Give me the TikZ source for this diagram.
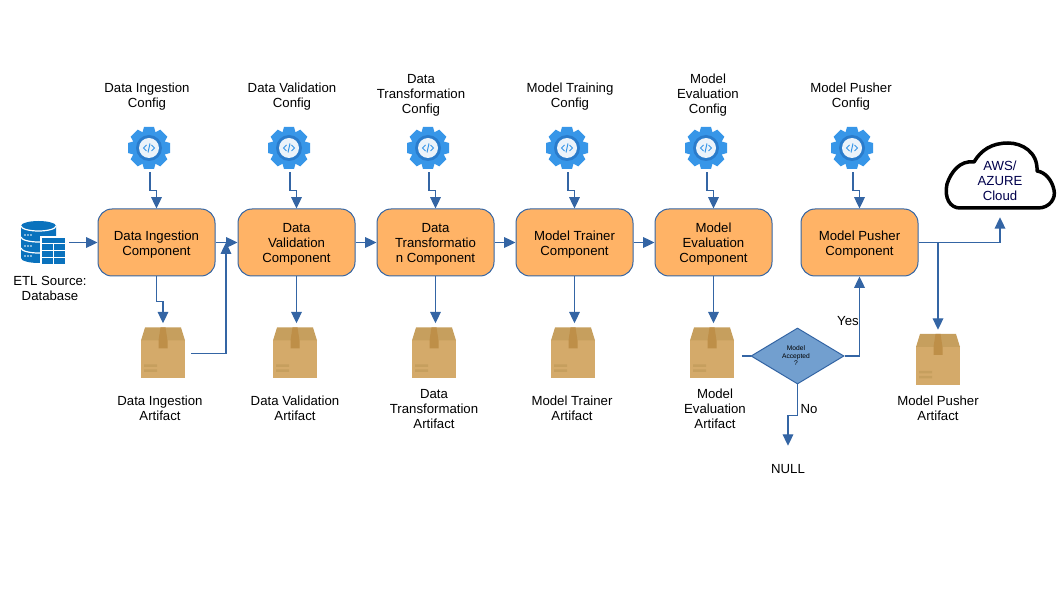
\documentclass[tikz,border=0pt]{standalone}
\usepackage{fontspec}
\setmainfont{Liberation Sans}
\usetikzlibrary{arrows.meta,shapes.geometric}
\newlength{\pxunit}
\setlength{\pxunit}{0.75pt}
\definecolor{FlowColor}{RGB}{52,101,164}
\definecolor{BoxColor}{RGB}{255,179,102}
\definecolor{DecisionColor}{RGB}{114,159,207}
\definecolor{GearColor}{RGB}{55,150,232}
\definecolor{GearRingColor}{RGB}{42,124,204}
\definecolor{GearCoreColor}{RGB}{236,243,250}
\definecolor{DbColor}{RGB}{10,114,189}
\definecolor{CrateColor}{RGB}{212,170,106}
\definecolor{CrateLidColor}{RGB}{198,159,94}
\definecolor{CrateTapeColor}{RGB}{190,143,72}
\tikzset{
  comp/.style={draw=FlowColor,fill=BoxColor,line width=1\pxunit,rounded corners=14\pxunit,minimum width=117\pxunit,minimum height=67\pxunit,inner sep=0pt},
  lbl/.style={align=center,inner sep=0pt,font=\fontsize{9.9}{11.25}\selectfont},
  spot/.style n args={2}{inner sep=0pt,minimum width=#1\pxunit,minimum height=#2\pxunit},
  flow/.style={draw=FlowColor,line width=1.2\pxunit,-{Triangle[length=8.5pt,width=8pt]}},
  plainflow/.style={draw=FlowColor,line width=1.2\pxunit},
  gearicon/.pic={
    \foreach \a in {0,45,...,315} {
      \fill[GearColor,rotate=\a] (-5,-21) -- (5,-21) -- (7,-14) -- (-7,-14) -- cycle;
    }
    \fill[GearColor] (0,0) circle (17);
    \fill[GearRingColor] (0,0) circle (13);
    \fill[GearCoreColor] (0,0) circle (10);
    \draw[GearColor,line width=1\pxunit] (-2.5,-3) -- (-5.5,0) -- (-2.5,3) (2.5,-3) -- (5.5,0) -- (2.5,3) (1,-4.5) -- (-1,4.5);
  },
  crateicon/.pic={
    \fill[CrateColor] (-22,-13) rectangle (22,25);
    \fill[CrateLidColor] (-18,-26) -- (18,-26) -- (22,-13) -- (-22,-13) -- cycle;
    \fill[CrateTapeColor] (-2.5,-26) -- (2.5,-26) -- (4.5,-13) -- (4.5,-5) -- (-4.5,-5) -- (-4.5,-13) -- cycle;
    \fill[CrateLidColor] (-19,11) rectangle (-6,13.5) (-19,16) rectangle (-6,18.5);
  }
}
\begin{document}
\begin{tikzpicture}[x=1\pxunit,y=-1\pxunit]
\useasboundingbox (0,0) rectangle (1058,595);
% components
\foreach \nm/\x/\txt in {A/156.5/Data Ingestion\\Component,B/296.5/Data\\Validation\\Component,C/435.5/Data\\Transformatio\\n Component,D/574.5/Model Trainer\\Component,E/713.5/Model\\Evaluation\\Component,F/859.5/Model Pusher\\Component} {
   \node[comp,label={[lbl,yshift=-2\pxunit]center:\txt}] (box\nm) at (\x,242.5) {};
}
% config gears
\foreach \nm/\x/\xl/\yl/\txt in {A/150/147/96.5/Data Ingestion\\Config,B/290/292/96.5/Data Validation\\Config,C/429/421/95/Data\\Transformation\\Config,D/568/570/96.5/Model Training\\Config,E/707/708/95/Model\\Evaluation\\Config,F/853/851/96.5/Model Pusher\\Config} {
   \node[spot={48}{48}] (gear\nm) at (\x,148) {};
   \pic at (\x-1,148) {gearicon};
   \node[lbl] (cfg\nm) at (\xl,\yl) {\txt};
   \draw[flow] (gear\nm.south) -- ++(0,18) -| (box\nm.north);
}
% artifacts
\foreach \nm/\x/\xi/\y/\xl/\txt in {A/163/163/353.5/160/Data Ingestion\\Artifact,B/296.5/295/353.5/295/Data Validation\\Artifact,C/435.5/434/353.5/434/Data\\Transformation\\Artifact,D/574.5/573/353.5/572/Model Trainer\\Artifact,E/713.5/712/353.5/715/Model\\Evaluation\\Artifact,F/938/938/360/938/Model Pusher\\Artifact} {
   \node[spot={56}{60}] (art\nm) at (\x,\y) {};
   \pic at (\xi,\y) {crateicon};
   \node[lbl] (artlbl\nm) at (\xl,408.7) {\txt};
}
\draw[flow] (boxA.south) -- ++(0,25) -| (artA.north);
\foreach \nm in {B,C,D,E} {
   \draw[flow] (box\nm.south) -- (art\nm.north);
}
\draw[flow] (boxF.east) -| (artF.north);
\foreach \p/\q in {A/B,B/C,C/D,D/E} {
   \draw[flow] (box\p.east) -- (box\q.west);
}
\coordinate (joinAB) at (226,242.5);
\draw[flow] (artA.east) -| (joinAB);
% source
\node[spot={58}{44}] (dbSource) at (40,242.5) {};
\node[lbl] (dbLabel) at (50,288.5) {ETL Source:\\Database};
\fill[DbColor] (21,226) -- (56,226) -- (56,258) arc[start angle=0,end angle=-180,x radius=17.5,y radius=-5] -- cycle;
\fill[DbColor] (38.5,226) ellipse[x radius=17.5,y radius=5];
\draw[white,line width=1.2\pxunit] (21,226) arc[start angle=180,end angle=360,x radius=17.5,y radius=-5] (21,237) arc[start angle=180,end angle=360,x radius=17.5,y radius=-5] (21,248) arc[start angle=180,end angle=360,x radius=17.5,y radius=-5];
\foreach \y in {235,246,256} {
   \foreach \x in {25,28,31} {
      \fill[white] (\x,\y) circle (0.9);
   }
}
\fill[white] (40,236) rectangle (67,266);
\fill[DbColor] (42,238) rectangle (65,264);
\draw[white,line width=1\pxunit] (42,244) -- (65,244) (42,251) -- (65,251) (42,258) -- (65,258) (53.5,244) -- (53.5,264);
\draw[flow] (dbSource.east) -- (boxA.west);
% cloud
\draw[black,line width=3.5\pxunit,line join=round,fill=white] (960,208) -- (1038,208) .. controls (1050,208) and (1056,198) .. (1054,190) .. controls (1052,180) and (1045,172) .. (1037,171) .. controls (1038,152) and (1022,143) .. (1008,143) .. controls (992,143) and (981,150) .. (974,162) .. controls (960,160) and (951,172) .. (947,184) .. controls (944,198) and (950,208) .. (960,208) -- cycle;
\node[lbl,minimum height=72\pxunit,text=black!70!blue] (cloudNode) at (1000,181) {AWS/\\AZURE\\Cloud};
\draw[flow] (boxF.east) -| (cloudNode.south);
% decision
\node[diamond,draw=FlowColor,fill=DecisionColor,line width=1\pxunit,inner sep=0pt,minimum width=93\pxunit,minimum height=56\pxunit] (decide) at (797.5,356) {};
\node[align=center,inner sep=0pt,font=\fontsize{5}{5.6}\selectfont] (decideLabel) at (796,356) {Model\\Accepted\\?};
\node[lbl,minimum height=46\pxunit] (nullLabel) at (788,469) {NULL};
\node[lbl] (yesLabel) at (848,321) {Yes};
\node[lbl] (noLabel) at (809,409) {No};
\draw[plainflow] (artE.east |- decide.west) -- (decide.west);
\draw[flow] (decide.east) -| (boxF.south);
\draw[flow] (decide.south) -- ++(0,31) -| (nullLabel.north);
\end{tikzpicture}
\end{document}
